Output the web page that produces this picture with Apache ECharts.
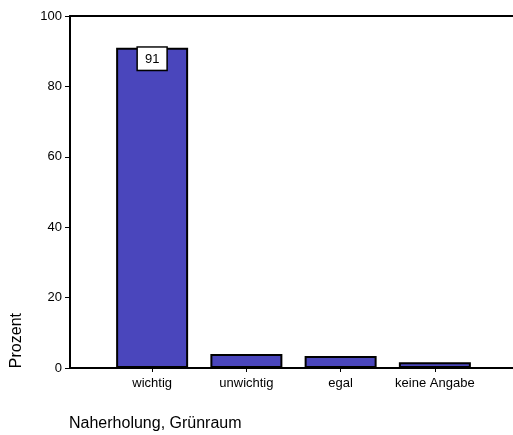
<!DOCTYPE html>
<html><head><meta charset="utf-8">
<script src="https://cdn.jsdelivr.net/npm/echarts@6/dist/echarts.min.js"></script>
<style>html,body{margin:0;padding:0;background:#fff}#c{width:513px;height:435px}</style>
</head><body><div id="c"></div>
<script>
const categories = ['wichtig', 'unwichtig', 'egal', 'keine Angabe'];
const values = [91, 4.0, 3.4, 1.6];
const yTicks = [0, 20, 40, 60, 80, 100];
const yTitle = 'Prozent';
const xTitle = 'Naherholung, Grünraum';

const font = 'Liberation Sans, Arial, sans-serif';
const chart = echarts.init(document.getElementById('c'));
const lineStyle = { color: '#000', width: 2 };
chart.setOption({
  animation: false,
  textStyle: { fontFamily: font },
  grid: [
    { left: 70, right: -20, top: 16, bottom: 67 },
    { left: 105, right: 31, top: 16, bottom: 67 }
  ],
  xAxis: [
    { gridIndex: 0, type: 'value', position: 'bottom', min: 0, max: 1,
      axisLine: { show: true, lineStyle }, axisTick: { show: false },
      axisLabel: { show: false }, splitLine: { show: false } },
    { gridIndex: 0, type: 'value', position: 'top', min: 0, max: 1,
      axisLine: { show: true, lineStyle }, axisTick: { show: false },
      axisLabel: { show: false }, splitLine: { show: false } },
    { gridIndex: 1, type: 'category', data: categories, position: 'bottom',
      axisLine: { show: false },
      axisTick: { show: true, interval: 0, alignWithLabel: true, length: 4, lineStyle: { color: '#000', width: 1 } },
      axisLabel: { interval: 0, hideOverlap: false, color: '#000', fontSize: 13, margin: 9, fontFamily: font },
      splitLine: { show: false } }
  ],
  yAxis: [
    { gridIndex: 0, type: 'value', min: yTicks[0], max: yTicks[yTicks.length - 1], interval: 20,
      axisLine: { show: true, lineStyle },
      axisTick: { show: true, length: 5, lineStyle: { color: '#000', width: 1 } },
      axisLabel: { color: '#000', fontSize: 13, margin: 8, fontFamily: font },
      splitLine: { show: false } },
    { gridIndex: 1, type: 'value', min: 0, max: 100, show: false }
  ],
  series: [{
    type: 'bar', xAxisIndex: 2, yAxisIndex: 1, barWidth: 72,
    data: values.map((v, i) => ({
      value: v,
      label: i === 0 ? {
        show: true, position: 'insideTop', distance: 0,
        backgroundColor: '#fff', borderColor: '#000', borderWidth: 1.5,
        padding: [5, 7, 4, 7], color: '#000', fontSize: 13, fontFamily: font
      } : { show: false }
    })),
    itemStyle: { color: '#4a46bc', borderColor: '#000', borderWidth: 2 }
  }],
  graphic: [
    { type: 'text', left: 9, top: 313, rotation: Math.PI / 2,
      style: { text: yTitle, font: '16px ' + font, fill: '#000' } },
    { type: 'text', left: 69, top: 416,
      style: { text: xTitle, font: '16px ' + font, fill: '#000' } }
  ]
});
</script></body></html>
